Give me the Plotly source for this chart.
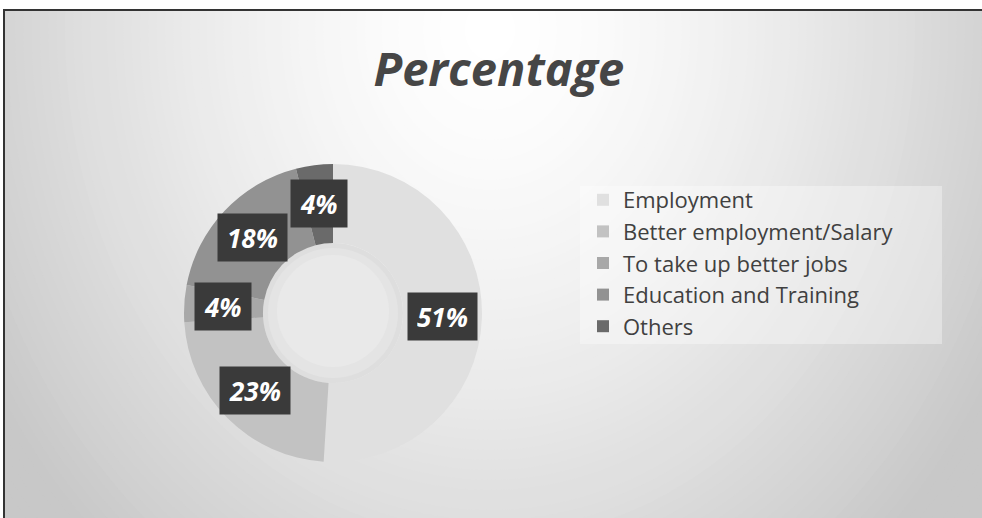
import math
import plotly.graph_objects as go

# ---- data ----
categories = ["Employment", "Better employment/Salary", "To take up better jobs",
              "Education and Training", "Others"]
values = [51, 23, 4, 18, 4]
label_texts = ["51%", "23%", "4%", "18%", "4%"]
colors = ["#e0e0e0", "#c2c2c2", "#a8a8a8", "#929292", "#6a6a6a"]

W, H = 982, 518
CX, CY, R = 333, 313, 149      # donut centre / radius in px
HOLE = 0.47
LABEL_R = 110                   # label radius in px

fig = go.Figure()
fig.add_trace(go.Pie(
    labels=categories, values=values, hole=HOLE, sort=False,
    direction="clockwise", rotation=0,
    marker=dict(colors=colors, line=dict(width=0)),
    textinfo="none", hoverinfo="label+percent",
    domain=dict(x=[(CX - R) / W, (CX + R) / W],
                y=[1 - (CY + R) / H, 1 - (CY - R) / H]),
    showlegend=True,
))

# ---- background gradient (radial, approximated by ellipses) ----
shapes = []
def shade(d):
    v = 255 - 44 * (d ** 1.5)
    v = max(200, min(255, v))
    v = int(round(v))
    return f"rgb({v},{v},{v})"

def circ(cx, cy, rx, ry, fill):
    return dict(type="circle", xref="paper", yref="paper",
                x0=(cx - rx) / W, x1=(cx + rx) / W,
                y0=1 - (cy + ry) / H, y1=1 - (cy - ry) / H,
                fillcolor=fill, line=dict(width=0), layer="below")

GX, GY, RX, RY = 490, 30, 500, 600
shapes.append(dict(type="rect", xref="paper", yref="paper", x0=0, x1=1, y0=0, y1=1,
                   fillcolor=shade(1.5), line=dict(width=0), layer="below"))
N = 90
for i in range(N):
    d = 1.5 * (N - i) / N
    shapes.append(circ(GX, GY, d * RX, d * RY, shade(d)))

# soft shading of the donut hole
r_hole = R * HOLE
shapes.append(circ(CX, CY, r_hole, r_hole, "#dedede"))
shapes.append(circ(CX, CY, r_hole - 5, r_hole - 5, "#e4e4e4"))
shapes.append(circ(CX, CY - 2, r_hole - 14, r_hole - 14, "#e9e9e9"))

# legend background box
shapes.append(dict(type="rect", xref="paper", yref="paper",
                   x0=580 / W, x1=942 / W, y0=1 - 344 / H, y1=1 - 186 / H,
                   fillcolor="rgba(255,255,255,0.35)", line=dict(width=0), layer="below"))

# white margins outside chart frame
shapes.append(dict(type="rect", xref="paper", yref="paper", x0=0, x1=1,
                   y0=1 - 9 / H, y1=1.02, fillcolor="white", line=dict(width=0), layer="below"))
shapes.append(dict(type="rect", xref="paper", yref="paper", x0=-0.01, x1=3 / W,
                   y0=0, y1=1, fillcolor="white", line=dict(width=0), layer="below"))
# frame lines
shapes.append(dict(type="line", xref="paper", yref="paper", x0=3 / W, x1=1,
                   y0=1 - 10 / H, y1=1 - 10 / H, line=dict(color="#333333", width=2), layer="below"))
shapes.append(dict(type="line", xref="paper", yref="paper", x0=4 / W, x1=4 / W,
                   y0=0, y1=1 - 9 / H, line=dict(color="#333333", width=2), layer="below"))

# ---- data labels as boxed annotations at slice mid-angles ----
annotations = []
total = sum(values)
cum = 0
for v, t in zip(values, label_texts):
    mid = (cum + v / 2) / total * 2 * math.pi
    cum += v
    px = CX + LABEL_R * math.sin(mid)
    py = CY - LABEL_R * math.cos(mid)
    annotations.append(dict(
        x=px / W, y=1 - py / H, xref="paper", yref="paper", showarrow=False,
        xanchor="center", yanchor="middle",
        text=f"<b><i>{t}</i></b>", bgcolor="#3a3a3a", borderpad=9, height=29,
        font=dict(family="Open Sans", size=26, color="white"),
    ))

fig.update_layout(
    width=W, height=H,
    margin=dict(l=0, r=0, t=0, b=0),
    paper_bgcolor="white", plot_bgcolor="rgba(0,0,0,0)",
    title=dict(text="<b><i>Percentage</i></b>", x=0.508, xanchor="center",
               y=1 - 70 / H, yanchor="middle",
               font=dict(family="Open Sans", size=47, color="#464646")),
    legend=dict(x=583 / W, xanchor="left", y=1 - 179 / H, yanchor="top",
                bgcolor="rgba(0,0,0,0)", borderwidth=0,
                font=dict(family="Open Sans", size=22, color="#404040"),
                traceorder="normal"),
    shapes=shapes,
    annotations=annotations,
)

fig.write_html("out.html")
